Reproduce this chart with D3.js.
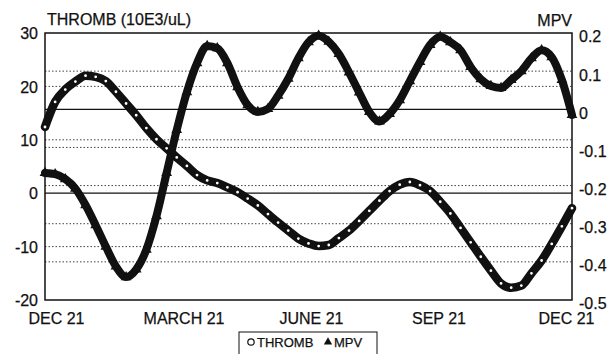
<!DOCTYPE html>
<html>
<head>
<meta charset="utf-8">
<script src="https://cdn.jsdelivr.net/npm/d3@7"></script>
<style>
  body { margin: 0; background: #fff; }
  text { font-family: "Liberation Sans", Arial, sans-serif; fill: #111; stroke: #111; stroke-width: 0.25px; }
</style>
</head>
<body>
<div id="chart"></div>
<script>
// Weekly readings, one year from DEC 21 to DEC 21
var thromb = [12.4, 17.1, 19.4, 20.9, 22.0, 21.8, 21.0, 19.0, 16.8, 14.6, 12.2, 10.1, 8.4,
              6.7, 5.1, 3.4, 2.4, 1.9, 1.1, 0.2, -1.0, -2.3, -3.9, -5.5, -7.0, -8.5, -9.4,
              -9.9, -9.7, -8.4, -7.0, -5.2, -3.3, -1.4, 0.4, 1.6, 2.1, 1.5, 0.4, -1.6, -3.8,
              -6.5, -9.2, -11.9, -14.5, -16.9, -17.7, -17.3, -15.0, -12.6, -9.5, -6.2, -2.8];
var mpv = [-0.167, -0.170, -0.183, -0.208, -0.251, -0.304, -0.360, -0.412, -0.440, -0.420,
           -0.368, -0.280, -0.167, -0.054, 0.045, 0.121, 0.166, 0.160, 0.121, 0.058, 0.011,
           -0.007, 0.001, 0.036, 0.080, 0.134, 0.176, 0.193, 0.177, 0.145, 0.097, 0.044,
           -0.007, -0.032, -0.012, 0.024, 0.074, 0.124, 0.169, 0.190, 0.176, 0.155, 0.111,
           0.079, 0.061, 0.056, 0.077, 0.100, 0.134, 0.155, 0.137, 0.077, -0.015];

var xLabels = ["DEC 21", "MARCH 21", "JUNE 21", "SEP 21", "DEC 21"];
var leftTicks = [30, 20, 10, 0, -10, -20];
var rightTicks = [0.2, 0.1, 0, -0.1, -0.2, -0.3, -0.4, -0.5];

// Size of page and plot box
var width = 613;
var height = 354;
var plot = {left: 45, right: 572, top: 33, bottom: 300};

var svg = d3.select("#chart")
            .append("svg")
            .attr("width", width)
            .attr("height", height);

// Scales
var x = d3.scaleLinear()
          .domain([0, thromb.length - 1])
          .range([plot.left, plot.right]);
var yLeft = d3.scaleLinear()
              .domain([-20, 30])
              .range([plot.bottom, plot.top]);
var yRight = d3.scaleLinear()
               .domain([-0.5, 0.2])
               .range([plot.bottom, plot.top]);
var xLab = d3.scaleLinear()
             .domain([0, xLabels.length - 1])
             .range([56.5, 566.5]);

// Grid lines, dotted, with a solid line at zero for each axis
function grid(ticks, scale, cls) {
  svg.selectAll("line." + cls)
     .data(ticks.filter(function(d) { return scale(d) > plot.top + 1 && scale(d) < plot.bottom - 1; }))
     .enter()
     .append("line")
     .attr("class", cls)
     .attr("x1", plot.left)
     .attr("x2", plot.right)
     .attr("y1", function(d) { return scale(d); })
     .attr("y2", function(d) { return scale(d); })
     .attr("stroke", function(d) { return d === 0 ? "#111" : "#444"; })
     .attr("stroke-width", function(d) { return d === 0 ? 1.2 : 1; })
     .attr("stroke-dasharray", function(d) { return d === 0 ? null : "1.5,2"; });
}
grid(leftTicks, yLeft, "gridL");
grid(rightTicks, yRight, "gridR");

// Plot border
svg.append("rect")
   .attr("x", plot.left)
   .attr("y", plot.top)
   .attr("width", plot.right - plot.left)
   .attr("height", plot.bottom - plot.top)
   .attr("fill", "none")
   .attr("stroke", "#111")
   .attr("stroke-width", 1.5);

// THROMB series: thick band of open circles
var lineL = d3.line()
              .x(function(d, i) { return x(i); })
              .y(function(d) { return yLeft(d); })
              .curve(d3.curveMonotoneX);
svg.append("path")
   .datum(thromb)
   .attr("d", lineL)
   .attr("fill", "none")
   .attr("stroke", "#111")
   .attr("stroke-width", 8.5)
   .attr("stroke-linecap", "round");
svg.selectAll("circle.thromb")
   .data(thromb)
   .enter()
   .append("circle")
   .attr("class", "thromb")
   .attr("cx", function(d, i) { return x(i); })
   .attr("cy", function(d) { return yLeft(d); })
   .attr("r", 2.3)
   .attr("fill", "#fff")
   .attr("stroke", "#111")
   .attr("stroke-width", 1.8);

// MPV series: thick band of filled triangles
var lineR = d3.line()
              .x(function(d, i) { return x(i); })
              .y(function(d) { return yRight(d); })
              .curve(d3.curveMonotoneX);
svg.append("path")
   .datum(mpv)
   .attr("d", lineR)
   .attr("fill", "none")
   .attr("stroke", "#111")
   .attr("stroke-width", 8)
   .attr("stroke-linecap", "round");
svg.selectAll("path.mpv")
   .data(mpv)
   .enter()
   .append("path")
   .attr("class", "mpv")
   .attr("d", d3.symbol().type(d3.symbolTriangle).size(50))
   .attr("transform", function(d, i) { return "translate(" + x(i) + "," + yRight(d) + ")"; })
   .attr("fill", "#111");

// Left axis labels
svg.append("g")
   .attr("transform", "translate(38,0)")
   .call(d3.axisLeft(yLeft).tickValues(leftTicks).tickSize(0).tickPadding(0)
           .tickFormat(function(d) { return String(d); }))
   .attr("font-size", 16)
   .attr("font-family", null)
   .call(function(g) { g.select(".domain").remove(); })
   .selectAll("text")
   .attr("dy", "0.35em");

// Right axis labels, set a little below their tick
svg.append("g")
   .attr("transform", "translate(579,0)")
   .call(d3.axisRight(yRight).tickValues(rightTicks).tickSize(0).tickPadding(0)
           .tickFormat(function(d) { return String(d); }))
   .attr("font-size", 16)
   .attr("font-family", null)
   .call(function(g) { g.select(".domain").remove(); })
   .selectAll("text")
   .attr("dy", "0.56em");

// Bottom labels
svg.selectAll("text.xlab")
   .data(xLabels)
   .enter()
   .append("text")
   .attr("class", "xlab")
   .attr("x", function(d, i) { return xLab(i); })
   .attr("y", 324)
   .attr("text-anchor", "middle")
   .attr("font-size", 16)
   .text(function(d) { return d; });

// Axis titles
svg.append("text")
   .attr("x", 47)
   .attr("y", 25)
   .attr("font-size", 16)
   .text("THROMB (10E3/uL)");
svg.append("text")
   .attr("x", 572)
   .attr("y", 26)
   .attr("text-anchor", "end")
   .attr("font-size", 16)
   .text("MPV");

// Legend
var legend = svg.append("g");
legend.append("rect")
      .attr("x", 239)
      .attr("y", 332)
      .attr("width", 138)
      .attr("height", 30)
      .attr("fill", "#fff")
      .attr("stroke", "#111")
      .attr("stroke-width", 1);
legend.append("circle")
      .attr("cx", 251)
      .attr("cy", 342)
      .attr("r", 3.2)
      .attr("fill", "#fff")
      .attr("stroke", "#111")
      .attr("stroke-width", 1.2);
legend.append("text")
      .attr("x", 257)
      .attr("y", 347)
      .attr("font-size", 13)
      .attr("stroke-width", 0.15)
      .text("THROMB");
legend.append("path")
      .attr("d", d3.symbol().type(d3.symbolTriangle).size(30))
      .attr("transform", "translate(328,342)")
      .attr("fill", "#111");
legend.append("text")
      .attr("x", 334)
      .attr("y", 347)
      .attr("font-size", 13)
      .attr("stroke-width", 0.15)
      .text("MPV");
</script>
</body>
</html>
